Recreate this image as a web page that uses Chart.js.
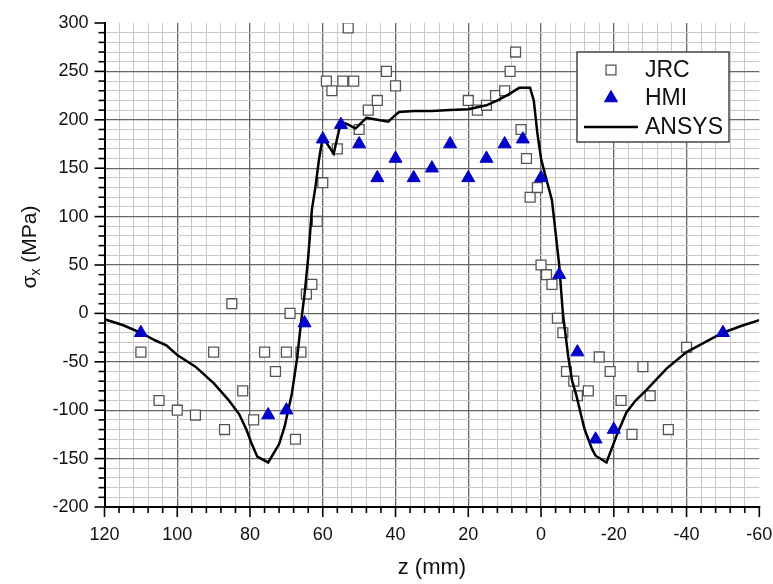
<!DOCTYPE html>
<html>
<head>
<meta charset="utf-8">
<script src="https://cdn.jsdelivr.net/npm/chart.js@4.4.1/dist/chart.umd.min.js"></script>
<style>
  html, body { margin: 0; padding: 0; background: #fff; }
  canvas { display: block; }
</style>
</head>
<body>
<canvas id="c" width="773" height="584"></canvas>
<script>
// Measured residual stress sigma_x along the weld axis z
const jrcZ = [110, 105, 100, 95, 90, 87, 85, 82, 79, 76, 73, 70, 69, 67.5, 66, 64.5, 63, 61.5, 60,
  59, 57.5, 56, 54.5, 53, 51.5, 50, 47.5, 45, 42.5, 40,
  20, 17.5, 15, 12.5, 10, 8.5, 7, 5.5, 4, 3, 1, 0, -1.5, -3, -4.5, -6, -7, -9, -10, -13,
  -16, -19, -22, -25, -28, -30, -35, -40];
const jrcStress = [-40, -90, -100, -105, -40, -120, 10, -80, -110, -40, -60, -40, 0, -130, -40, 20, 30, 95, 135,
  240, 230, 170, 240, 295, 240, 190, 210, 220, 250, 235,
  220, 210, 215, 225, 230, 250, 270, 190, 160, 120, 130, 50, 40, 30, -5, -20, -60, -70, -85, -80,
  -45, -60, -90, -125, -55, -85, -120, -35];

const hmiZ = [110, 75, 70, 65, 60, 55, 50, 45, 40, 35, 30, 25, 20, 15, 10, 5, 0, -5, -10, -15, -20, -50];
const hmiStress = [-20, -105, -100, -10, 180, 195, 175, 140, 160, 140, 150, 175, 140, 160, 175, 180, 140, 40, -40, -130, -120, -20];

// Finite element prediction
const ansysZ = [120, 115, 110, 106, 103, 100, 95, 90, 86, 83, 81, 79.5, 78, 75, 72, 70.5, 68.5, 67, 66, 65, 64, 63, 62, 61, 60,
  57, 55, 53, 51, 48, 45, 42, 40, 39, 35, 30, 25, 20, 15, 12, 9, 6, 3, 2, 1, 0, -1, -3, -5, -6, -7.5, -8.5, -9.8, -11, -12,
  -14, -15, -18, -21, -23.5, -26, -29, -34.5, -40, -45, -50, -55, -60];
const ansysStress = [-6, -12, -20, -28, -33, -43, -55, -72, -89, -104, -120, -135, -148, -154, -135, -117, -83, -45, -10, 20, 58, 107, 131, 160, 182,
  165, 198, 195, 191, 202, 200, 198, 205, 208, 209, 209, 210, 211, 215, 220, 226, 233, 233, 220, 186, 160, 145, 117, 50, 0, -45, -69, -86, -105, -120,
  -140, -147, -154, -124, -102, -90, -79, -57, -40, -30, -20, -13, -7];

const seriesNames = ['JRC', 'HMI', 'ANSYS'];
const xTitle = 'z (mm)';
const FONT = '"Liberation Sans", Arial, Helvetica, sans-serif';

function toPoints(xs, ys) { return xs.map((x, i) => ({ x: x, y: ys[i] })); }

// Grid colour: dark at labelled values, light in between, none on the far edges
function gridColor(major, edge) {
  return c => {
    if (!c.tick) return '#c8c8c8';
    if (c.tick.value === edge) return 'rgba(0,0,0,0)';
    return c.tick.value % major === 0 ? '#666' : '#c8c8c8';
  };
}

// Tick marks (long at labelled values, short in between) and axis titles
const axisDecor = {
  id: 'axisDecor',
  afterDraw(chart) {
    const ctx = chart.ctx, a = chart.chartArea;
    const xs = chart.scales.x, ys = chart.scales.y;
    ctx.save();
    ctx.strokeStyle = '#000';
    ctx.lineWidth = 1.6;
    xs.ticks.forEach(t => {
      const p = xs.getPixelForValue(t.value);
      const len = (t.value % 20 === 0) ? 10 : 6;
      ctx.beginPath(); ctx.moveTo(p, a.bottom); ctx.lineTo(p, a.bottom + len); ctx.stroke();
    });
    ys.ticks.forEach(t => {
      const p = ys.getPixelForValue(t.value);
      const len = (t.value % 50 === 0) ? 10 : 6;
      ctx.beginPath(); ctx.moveTo(a.left - len, p); ctx.lineTo(a.left, p); ctx.stroke();
    });

    ctx.fillStyle = '#111';
    ctx.font = '22px ' + FONT;
    ctx.textAlign = 'center';
    ctx.textBaseline = 'middle';
    ctx.fillText(xTitle, (a.left + a.right) / 2, 568);

    // sigma with subscript x, rotated
    ctx.translate(30, 247);
    ctx.rotate(-Math.PI / 2);
    const big = '21px ' + FONT, small = '14px ' + FONT;
    ctx.font = big; const wS = ctx.measureText('\u03C3').width;
    const wP = ctx.measureText(' (MPa)').width;
    ctx.font = small; const wX = ctx.measureText('x').width;
    let x0 = -(wS + wX + wP) / 2;
    ctx.textAlign = 'left';
    ctx.font = big; ctx.fillText('\u03C3', x0, 0);
    ctx.font = small; ctx.fillText('x', x0 + wS, 6);
    ctx.font = big; ctx.fillText(' (MPa)', x0 + wS + wX, 0);
    ctx.restore();
  }
};

// Boxed legend in the upper right of the plot
const boxLegend = {
  id: 'boxLegend',
  afterDraw(chart) {
    const ctx = chart.ctx;
    const bx = 577, by = 52, bw = 152, bh = 90;
    ctx.save();
    ctx.fillStyle = '#fff';
    ctx.fillRect(bx, by, bw, bh);
    ctx.strokeStyle = '#444';
    ctx.lineWidth = 1.5;
    ctx.strokeRect(bx, by, bw, bh);
    const rows = [70, 98, 127];
    const ds = chart.data.datasets;
    ctx.font = '23px ' + FONT;
    ctx.textBaseline = 'middle';
    ctx.textAlign = 'left';
    ds.forEach((d, i) => {
      const y = rows[i];
      if (d.showLine) {
        ctx.strokeStyle = d.borderColor;
        ctx.lineWidth = d.borderWidth;
        ctx.beginPath(); ctx.moveTo(584, y); ctx.lineTo(638, y); ctx.stroke();
      } else {
        ctx.fillStyle = d.pointBackgroundColor;
        ctx.strokeStyle = d.pointBorderColor;
        ctx.lineWidth = d.pointBorderWidth;
        Chart.helpers.drawPoint(ctx, { pointStyle: d.pointStyle, radius: d.pointRadius, rotation: 0, borderWidth: d.pointBorderWidth }, 611, y);
      }
      ctx.fillStyle = '#111';
      ctx.fillText(d.label, 645, y + 1);
    });
    ctx.restore();
  }
};

new Chart(document.getElementById('c'), {
  type: 'scatter',
  data: {
    datasets: [
      {
        label: seriesNames[0],
        data: toPoints(jrcZ, jrcStress),
        showLine: false,
        pointStyle: 'rect',
        pointRadius: 7,
        pointBorderWidth: 1.3,
        pointBorderColor: '#555',
        pointBackgroundColor: '#fff',
        order: 2
      },
      {
        label: seriesNames[1],
        data: toPoints(hmiZ, hmiStress),
        showLine: false,
        pointStyle: 'triangle',
        pointRadius: 7.5,
        pointBorderWidth: 1,
        pointBorderColor: '#0000c8',
        pointBackgroundColor: '#0000c8',
        order: 0
      },
      {
        label: seriesNames[2],
        data: toPoints(ansysZ, ansysStress),
        showLine: true,
        borderColor: '#000',
        borderWidth: 2.5,
        pointRadius: 0,
        tension: 0,
        order: 1
      }
    ]
  },
  options: {
    responsive: false,
    animation: false,
    layout: { padding: { left: 0, right: 13.7, top: 23, bottom: 0 } },
    plugins: { legend: { display: false }, tooltip: { enabled: false } },
    scales: {
      x: {
        type: 'linear',
        reverse: true,
        min: -60, max: 120,
        afterFit(s) { s.height = 77; s.paddingLeft = 0; s.paddingRight = 0; },
        border: { display: true, color: '#000', width: 2 },
        grid: {
          drawTicks: false,
          color: gridColor(20, -60),
          lineWidth: c => (c.tick && c.tick.value % 20 === 0) ? 1.3 : 1
        },
        ticks: {
          stepSize: 4,
          autoSkip: false,
          maxTicksLimit: 1000,
          maxRotation: 0,
          padding: 17,
          color: '#111',
          font: { family: FONT, size: 18 },
          callback: v => (v % 20 === 0 ? String(v) : '')
        }
      },
      y: {
        type: 'linear',
        min: -200, max: 300,
        afterFit(s) { s.width = 104.5; s.paddingTop = 0; s.paddingBottom = 0; },
        border: { display: true, color: '#000', width: 2 },
        grid: {
          drawTicks: false,
          color: gridColor(50, 300),
          lineWidth: c => (c.tick && c.tick.value % 50 === 0) ? 1.3 : 1
        },
        ticks: {
          stepSize: 10,
          autoSkip: false,
          maxTicksLimit: 1000,
          padding: 16,
          color: '#111',
          font: { family: FONT, size: 18 },
          callback: v => (v % 50 === 0 ? String(v) : '')
        }
      }
    }
  },
  plugins: [axisDecor, boxLegend]
});
</script>
</body>
</html>
